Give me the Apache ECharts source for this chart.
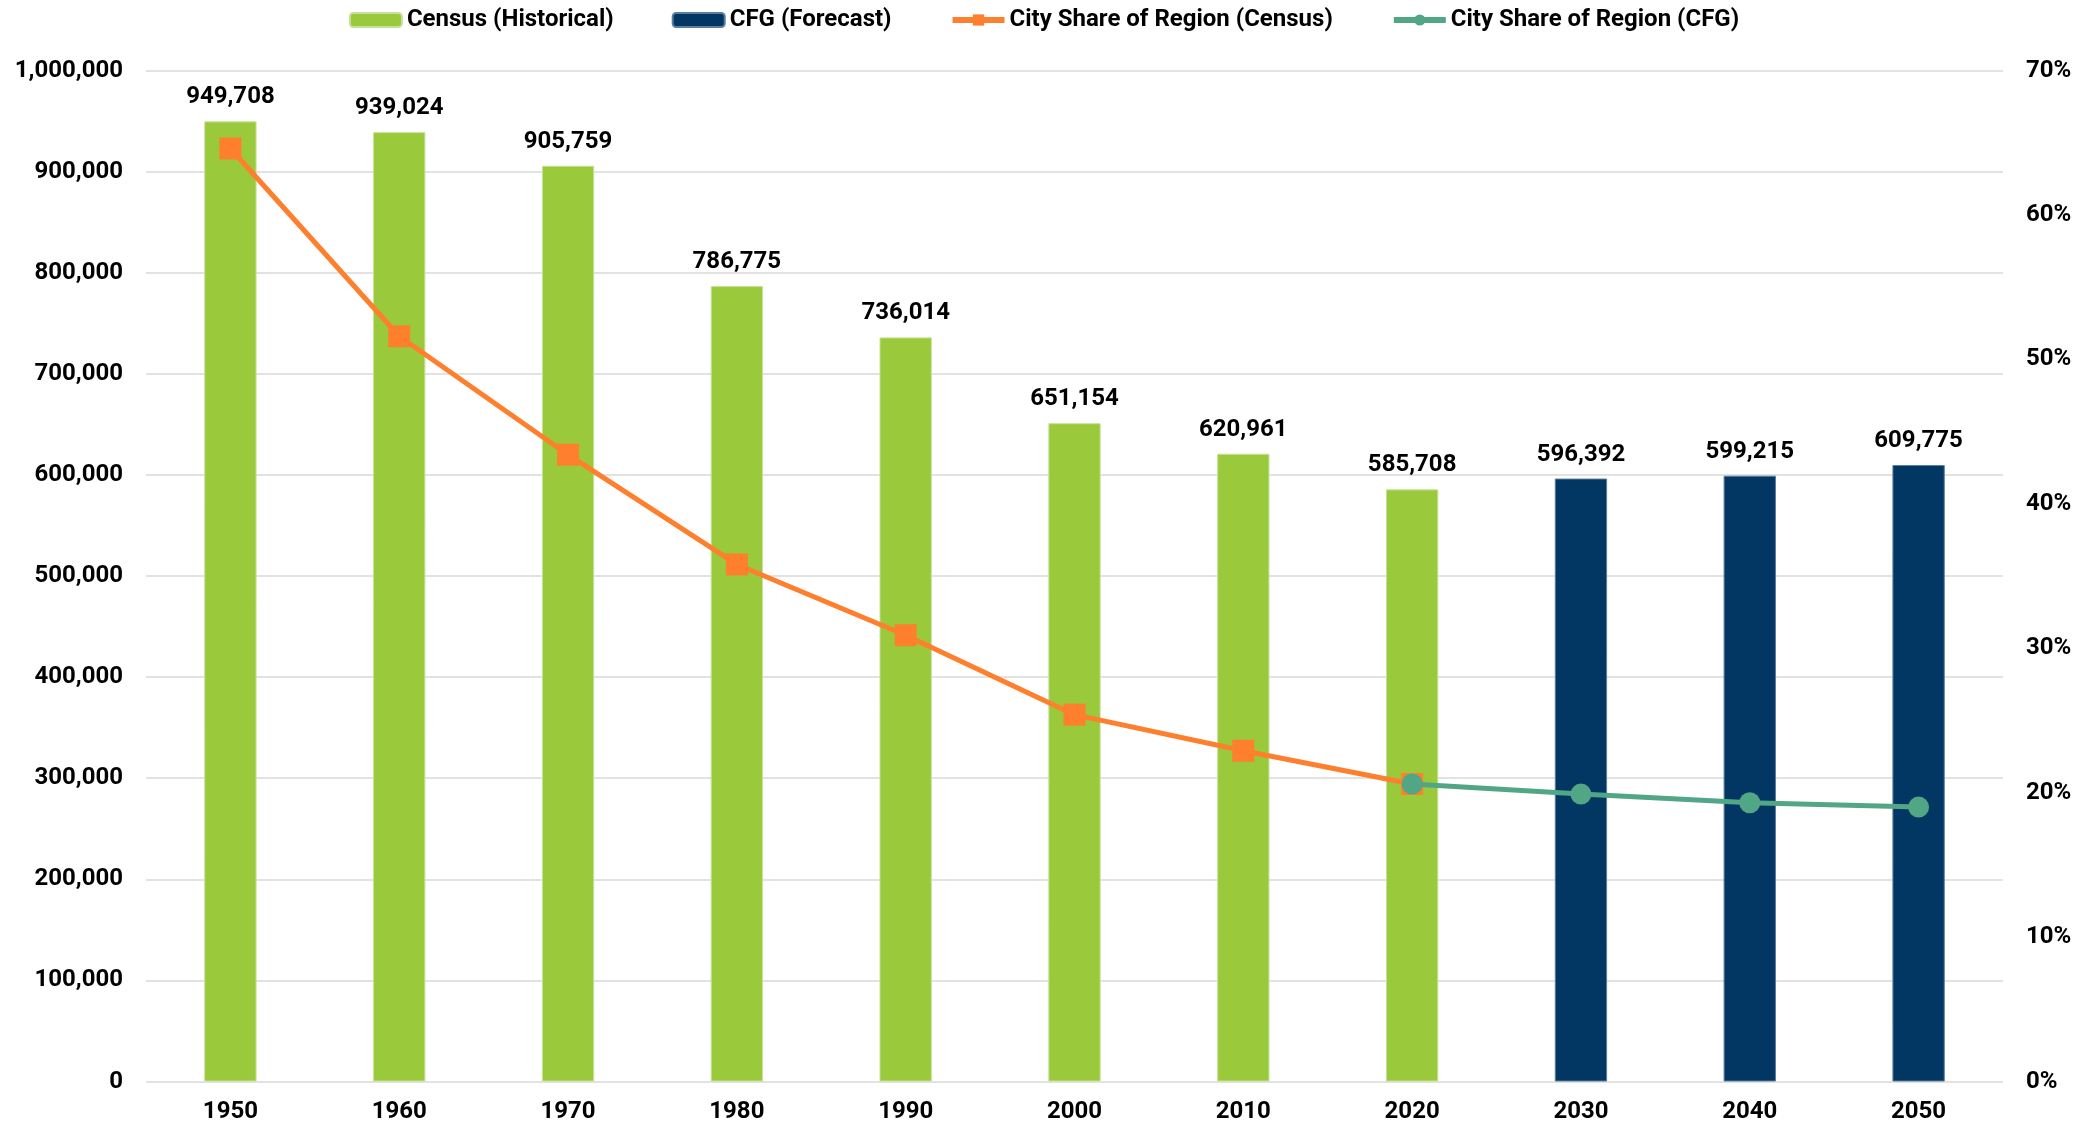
<!DOCTYPE html>
<html lang="en">
<head>
  <meta charset="UTF-8">
  <title>City Population</title>
  <script src="https://cdnjs.cloudflare.com/ajax/libs/echarts/6.0.0/echarts.min.js"></script>
  <style>
    html, body { margin: 0; padding: 0; background: #fff; }
    #chart { width: 2088px; height: 1125px; }
  </style>
</head>
<body>
<div id="chart"></div>
<script>
  // data
  var years = ['1950', '1960', '1970', '1980', '1990', '2000', '2010', '2020', '2030', '2040', '2050'];
  var censusPop = [949708, 939024, 905759, 786775, 736014, 651154, 620961, 585708, null, null, null];
  var forecastPop = [null, null, null, null, null, null, null, null, 596392, 599215, 609775];
  var shareCensus = [64.6, 51.6, 43.4, 35.8, 30.9, 25.4, 22.9, 20.6, null, null, null];
  var shareCFG = [null, null, null, null, null, null, null, 20.6, 19.9, 19.3, 19.0];

  var font = 'Roboto';
  var chart = echarts.init(document.getElementById('chart'));

  var barLabel = {
    show: true,
    position: 'top',
    distance: 12,
    fontFamily: font,
    fontWeight: 'bold',
    fontSize: 24,
    color: '#000',
    formatter: function (p) { return p.value.toLocaleString('en-US'); }
  };

  var option = {
    animation: false,
    textStyle: { fontFamily: font },
    legend: {
      top: 3,
      left: 'center',
      itemWidth: 52,
      itemHeight: 14,
      itemGap: 58,
      textStyle: { fontFamily: font, fontWeight: 'bold', fontSize: 24, color: '#000' },
      data: [
        { name: 'Census (Historical)' },
        { name: 'CFG (Forecast)' },
        { name: 'City Share of Region (Census)', lineStyle: { width: 6 } },
        { name: 'City Share of Region (CFG)', lineStyle: { width: 6 } }
      ]
    },
    grid: { left: 146, right: 85, top: 70.5, bottom: 43.5 },
    xAxis: {
      type: 'category',
      data: years,
      axisLine: { show: false },
      axisTick: { show: false },
      axisLabel: { fontFamily: font, fontWeight: 'bold', fontSize: 24, color: '#000', margin: 18 }
    },
    yAxis: [
      {
        type: 'value',
        min: 0,
        max: 1000000,
        interval: 100000,
        axisLabel: {
          fontFamily: font, fontWeight: 'bold', fontSize: 24, color: '#000', margin: 23,
          formatter: function (v) { return v.toLocaleString('en-US'); }
        },
        splitLine: { lineStyle: { color: '#d9d9d9', width: 1.5 } }
      },
      {
        type: 'value',
        min: 0,
        max: 70,
        interval: 10,
        axisLabel: {
          fontFamily: font, fontWeight: 'bold', fontSize: 24, color: '#000', margin: 23,
          formatter: '{value}%'
        },
        splitLine: { show: false }
      }
    ],
    series: [
      {
        name: 'Census (Historical)',
        type: 'bar',
        data: censusPop,
        barWidth: '31%',
        barGap: '-100%',
        itemStyle: { color: '#9aca3c', borderColor: '#c5e29a', borderWidth: 1 },
        label: barLabel
      },
      {
        name: 'CFG (Forecast)',
        type: 'bar',
        data: forecastPop,
        barWidth: '31%',
        barGap: '-100%',
        itemStyle: { color: '#023764', borderColor: '#5a7d9c', borderWidth: 1 },
        label: barLabel
      },
      {
        name: 'City Share of Region (Census)',
        type: 'line',
        yAxisIndex: 1,
        data: shareCensus,
        symbol: 'rect',
        symbolSize: 22,
        lineStyle: { color: '#fe7f2d', width: 5 },
        itemStyle: { color: '#fe7f2d' },
        z: 5
      },
      {
        name: 'City Share of Region (CFG)',
        type: 'line',
        yAxisIndex: 1,
        data: shareCFG,
        symbol: 'circle',
        symbolSize: 21,
        lineStyle: { color: '#50a685', width: 5 },
        itemStyle: { color: '#50a685' },
        z: 6
      }
    ]
  };

  chart.setOption(option);
</script>
</body>
</html>
